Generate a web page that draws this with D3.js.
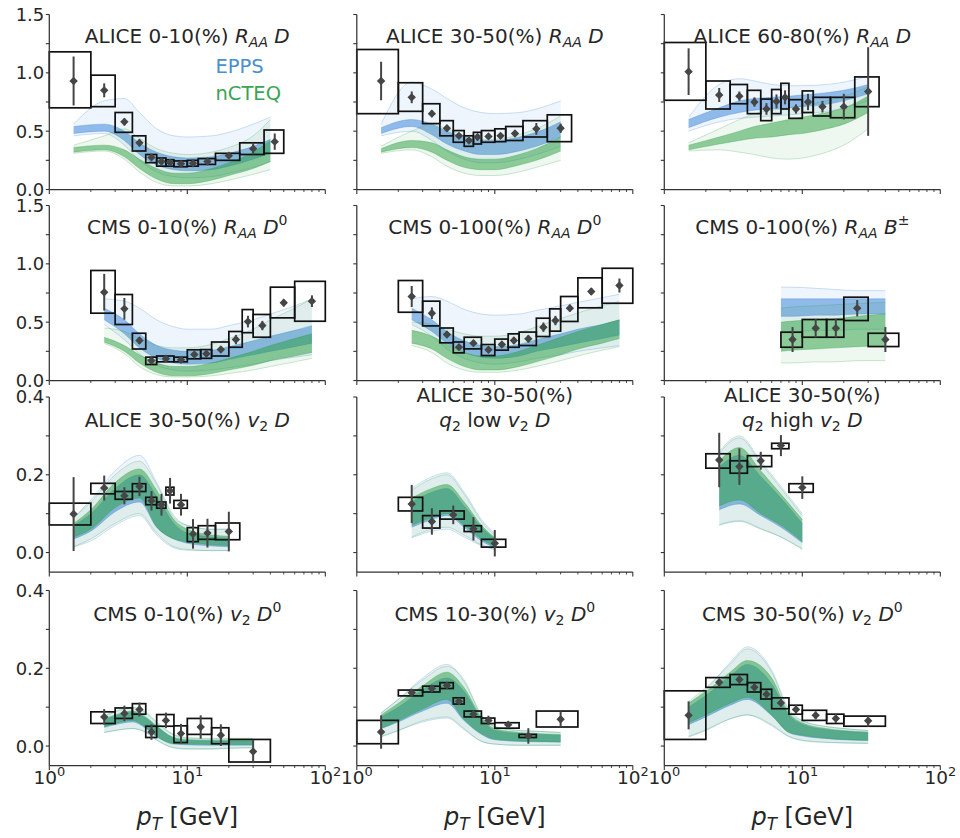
<!DOCTYPE html>
<html><head><meta charset="utf-8">
<script src="https://cdn.jsdelivr.net/npm/d3@7"></script>
<style>body{margin:0;background:#fff} svg text{font-family:"DejaVu Sans",sans-serif}</style>
</head><body><svg id="c" width="960" height="838"></svg>
<script>
// ---------- DATA ----------
// data rows: [pT, binLo, binHi, value, statErr, sysLo, sysHi]
const aliceRaa010 = [
 [1.5,1,2,0.93,0.21,0.70,1.18],[2.5,2,3,0.85,0.06,0.71,0.98],[3.5,3,4,0.58,0.03,0.49,0.66],
 [4.5,4,5,0.40,0.03,0.33,0.46],[5.5,5,6,0.275,0.02,0.23,0.30],[6.5,6,7,0.24,0.02,0.20,0.27],
 [7.5,7,8,0.23,0.02,0.20,0.255],[9,8,10,0.22,0.015,0.195,0.245],[11,10,12,0.225,0.02,0.20,0.25],
 [14,12,16,0.24,0.02,0.215,0.265],[20,16,24,0.29,0.02,0.25,0.31],[30,24,36,0.35,0.05,0.30,0.40],
 [43,36,50,0.41,0.07,0.31,0.51]];
const aliceRaa3050 = [
 [1.5,1,2,0.93,0.165,0.65,1.20],[2.5,2,3,0.79,0.05,0.67,0.915],[3.5,3,4,0.65,0.03,0.565,0.735],
 [4.5,4,5,0.525,0.025,0.46,0.59],[5.5,5,6,0.46,0.02,0.405,0.505],[6.5,6,7,0.42,0.02,0.37,0.46],
 [7.5,7,8,0.45,0.025,0.39,0.49],[9,8,10,0.455,0.02,0.405,0.505],[11,10,12,0.46,0.025,0.41,0.52],
 [14,12,16,0.48,0.025,0.42,0.54],[20,16,24,0.52,0.05,0.45,0.59],[30,24,36,0.525,0.04,0.41,0.64]];
const aliceRaa6080 = [
 [1.5,1,2,1.01,0.20,0.765,1.26],[2.5,2,3,0.81,0.06,0.69,0.93],[3.5,3,4,0.80,0.04,0.735,0.90],
 [4.5,4,5,0.75,0.04,0.65,0.85],[5.5,5,6,0.69,0.05,0.59,0.775],[6.5,6,7,0.755,0.06,0.65,0.857],
 [7.5,7,8,0.79,0.06,0.69,0.91],[9,8,10,0.69,0.04,0.61,0.77],[11,10,12,0.75,0.07,0.66,0.845],
 [14,12,16,0.71,0.05,0.63,0.79],[20,16,24,0.71,0.11,0.615,0.79],[30,24,36,0.84,0.38,0.71,0.965]];
const cmsRaa010 = [
 [2.5,2,3,0.757,0.157,0.577,0.943],[3.5,3,4,0.614,0.093,0.48,0.737],[4.5,4,5,0.343,0.03,0.27,0.405],
 [5.5,5,6,0.171,0.02,0.137,0.20],[7,6,8,0.186,0.02,0.16,0.21],[9,8,10,0.177,0.02,0.16,0.20],
 [11.25,10,12.5,0.223,0.02,0.186,0.263],[13.75,12.5,15,0.229,0.02,0.19,0.265],[17.5,15,20,0.266,0.02,0.21,0.33],
 [22.5,20,25,0.351,0.04,0.285,0.42],[27.5,25,30,0.505,0.05,0.41,0.608],[35,30,40,0.471,0.04,0.371,0.566],
 [50,40,60,0.666,0.03,0.537,0.80],[80,60,100,0.68,0.05,0.508,0.85]];
const cmsRaa0100 = [
 [2.5,2,3,0.72,0.09,0.585,0.857],[3.5,3,4,0.577,0.05,0.468,0.68],[4.5,4,5,0.394,0.03,0.323,0.45],
 [5.5,5,6,0.286,0.025,0.237,0.33],[7,6,8,0.32,0.025,0.271,0.371],[9,8,10,0.263,0.02,0.214,0.308],
 [11.25,10,12.5,0.308,0.02,0.26,0.355],[13.75,12.5,15,0.343,0.03,0.285,0.40],[17.5,15,20,0.357,0.03,0.30,0.415],
 [22.5,20,25,0.457,0.04,0.377,0.534],[27.5,25,30,0.514,0.04,0.423,0.614],[35,30,40,0.62,0.03,0.506,0.72],
 [50,40,60,0.763,0.03,0.623,0.88],[80,60,100,0.814,0.06,0.662,0.962]];
const cmsRaaB = [
 [8.5,7,10,0.351,0.107,0.285,0.414],[12.5,10,15,0.448,0.08,0.371,0.523],[17.5,15,20,0.448,0.08,0.371,0.523],
 [25,20,30,0.62,0.07,0.514,0.714],[40,30,50,0.351,0.107,0.291,0.405]];
const aliceV2 = [
 [1.5,1,2,0.099,0.095,0.071,0.127],[2.5,2,3,0.166,0.032,0.151,0.178],[3.5,3,4,0.146,0.022,0.137,0.157],
 [4.5,4,5,0.17,0.025,0.157,0.177],[5.5,5,6,0.133,0.025,0.123,0.142],[6.5,6,7,0.123,0.028,0.114,0.13],
 [7.5,7,8,0.159,0.033,0.148,0.168],[9,8,10,0.123,0.028,0.114,0.134],[11,10,12,0.048,0.038,0.028,0.064],
 [14,12,16,0.05,0.037,0.034,0.069],[20,16,24,0.054,0.051,0.033,0.076]];
const aliceV2Low = [
 [2.5,2,3,0.125,0.049,0.107,0.142],[3.5,3,4,0.08,0.034,0.063,0.095],[5,4,6,0.097,0.024,0.086,0.107],
 [7,6,8,0.061,0.03,0.054,0.069],[10,8,12,0.024,0.034,0.014,0.034]];
const aliceV2High = [
 [2.5,2,3,0.238,0.07,0.217,0.254],[3.5,3,4,0.221,0.047,0.204,0.236],[5,4,6,0.236,0.023,0.221,0.249],
 [7,6,8,0.275,0.027,0.267,0.281],[10,8,12,0.167,0.029,0.155,0.177]];
const cmsV2010 = [
 [2.5,2,3,0.075,0.02,0.058,0.088],[3.5,3,4,0.084,0.02,0.071,0.098],[4.5,4,5,0.094,0.018,0.082,0.109],
 [5.5,5,6,0.036,0.02,0.022,0.051],[7,6,8,0.066,0.02,0.051,0.081],[9,8,10,0.032,0.025,0.009,0.052],
 [12.5,10,15,0.049,0.03,0.03,0.071],[17.5,15,20,0.028,0.028,0.006,0.047],[30,20,40,-0.014,0.03,-0.041,0.017]];
const cmsV21030 = [
 [1.5,1,2,0.036,0.043,0.006,0.066],[2.5,2,3,0.137,0.01,0.129,0.144],[3.5,3,4,0.148,0.008,0.139,0.154],
 [4.5,4,5,0.156,0.008,0.148,0.163],[5.5,5,6,0.115,0.008,0.108,0.124],[7,6,8,0.082,0.008,0.075,0.09],
 [9,8,10,0.066,0.012,0.058,0.072],[12.5,10,15,0.055,0.008,0.046,0.06],[17.5,15,20,0.026,0.02,0.022,0.03],
 [30,20,40,0.069,0.02,0.049,0.09]];
const cmsV23050 = [
 [1.5,1,2,0.079,0.036,0.017,0.142],[2.5,2,3,0.164,0.01,0.151,0.176],[3.5,3,4,0.171,0.01,0.158,0.184],
 [4.5,4,5,0.151,0.01,0.139,0.163],[5.5,5,6,0.133,0.01,0.121,0.146],[7,6,8,0.111,0.01,0.096,0.124],
 [9,8,10,0.094,0.012,0.082,0.105],[12.5,10,15,0.079,0.01,0.066,0.092],[17.5,15,20,0.071,0.012,0.058,0.082],
 [30,20,40,0.065,0.015,0.051,0.077]];

// model curves: knots pT, then [hi, coreHi, coreLo, lo] for each nPDF set
const ptA = [1.5,2.5,3.5,4.5,6,8,10,15,20,30,40];
const eppsA = [[0.56,0.76,0.78,0.66,0.52,0.46,0.45,0.46,0.49,0.56,0.62],[0.54,0.56,0.50,0.40,0.32,0.28,0.27,0.28,0.31,0.37,0.43],[0.48,0.50,0.42,0.30,0.21,0.17,0.16,0.17,0.20,0.26,0.31],[0.46,0.48,0.38,0.25,0.15,0.11,0.10,0.11,0.14,0.19,0.24]];
const ncteqA = [[0.38,0.46,0.52,0.44,0.35,0.31,0.30,0.32,0.36,0.46,0.60],[0.36,0.38,0.34,0.26,0.18,0.14,0.14,0.18,0.23,0.32,0.42],[0.32,0.34,0.28,0.18,0.09,0.05,0.05,0.08,0.12,0.18,0.24],[0.31,0.33,0.26,0.15,0.06,0.03,0.03,0.05,0.08,0.13,0.17]];
const ptB = [1.5,2.5,3.5,4.5,6,8,10,15,20,30];
const eppsB = [[0.56,0.92,0.86,0.78,0.70,0.66,0.65,0.66,0.69,0.76],[0.53,0.60,0.56,0.50,0.45,0.42,0.42,0.45,0.49,0.58],[0.48,0.54,0.47,0.39,0.33,0.30,0.30,0.33,0.37,0.45],[0.46,0.50,0.42,0.33,0.26,0.23,0.23,0.26,0.30,0.37]];
const ncteqB = [[0.37,0.50,0.56,0.52,0.46,0.43,0.43,0.47,0.52,0.63],[0.35,0.42,0.40,0.34,0.28,0.26,0.26,0.30,0.35,0.45],[0.32,0.36,0.32,0.25,0.19,0.17,0.17,0.21,0.25,0.33],[0.31,0.34,0.28,0.20,0.14,0.12,0.12,0.15,0.19,0.25]];
const ptC = [1.5,2.5,3.5,4.5,6,8,10,15,20,30];
const eppsC = [[0.62,0.90,0.95,0.93,0.90,0.89,0.89,0.90,0.92,0.97],[0.60,0.70,0.76,0.78,0.79,0.80,0.81,0.83,0.85,0.90],[0.53,0.62,0.66,0.68,0.69,0.70,0.71,0.73,0.76,0.82],[0.50,0.58,0.61,0.62,0.63,0.64,0.65,0.67,0.70,0.76]];
const ncteqC = [[0.40,0.52,0.60,0.65,0.68,0.70,0.72,0.76,0.80,0.88],[0.38,0.45,0.50,0.54,0.57,0.60,0.62,0.66,0.70,0.80],[0.34,0.39,0.42,0.44,0.45,0.47,0.48,0.52,0.56,0.66],[0.33,0.34,0.32,0.30,0.27,0.26,0.27,0.32,0.38,0.52]];
const ptD = [2.5,3.5,4.5,6,8,10,15,20,30,40,60,80];
const eppsD = [[0.70,0.68,0.62,0.52,0.46,0.44,0.44,0.47,0.52,0.57,0.64,0.70],[0.62,0.52,0.40,0.30,0.26,0.25,0.26,0.29,0.34,0.38,0.43,0.47],[0.52,0.40,0.28,0.19,0.15,0.14,0.15,0.18,0.22,0.25,0.29,0.32],[0.48,0.35,0.23,0.13,0.09,0.08,0.09,0.11,0.14,0.17,0.20,0.22]];
const ncteqD = [[0.45,0.42,0.36,0.30,0.28,0.28,0.31,0.36,0.44,0.52,0.62,0.70],[0.37,0.30,0.22,0.15,0.12,0.12,0.15,0.19,0.25,0.30,0.36,0.40],[0.33,0.25,0.15,0.07,0.04,0.04,0.06,0.09,0.13,0.17,0.21,0.24],[0.32,0.23,0.12,0.05,0.03,0.03,0.04,0.06,0.09,0.12,0.16,0.19]];
const ptE = [2.5,3.5,4.5,6,8,10,15,20,30,40,60,80];
const eppsE = [[0.70,0.72,0.68,0.61,0.57,0.56,0.57,0.60,0.64,0.67,0.71,0.74],[0.62,0.52,0.42,0.34,0.30,0.29,0.31,0.35,0.40,0.44,0.48,0.52],[0.52,0.42,0.32,0.24,0.20,0.19,0.21,0.25,0.29,0.32,0.36,0.39],[0.48,0.38,0.27,0.19,0.15,0.14,0.16,0.19,0.22,0.25,0.28,0.30]];
const ncteqE = [[0.50,0.48,0.44,0.40,0.38,0.38,0.41,0.46,0.53,0.58,0.64,0.68],[0.43,0.38,0.31,0.24,0.21,0.21,0.25,0.30,0.37,0.42,0.48,0.52],[0.32,0.27,0.19,0.12,0.09,0.09,0.12,0.16,0.22,0.27,0.32,0.36],[0.30,0.24,0.15,0.09,0.07,0.07,0.09,0.12,0.17,0.21,0.26,0.29]];
const ptF = [7,8.5,12.5,17.5,25,40];
const eppsF = [[0.80,0.80,0.79,0.78,0.77,0.77],[0.70,0.70,0.70,0.70,0.70,0.70],[0.55,0.55,0.56,0.56,0.57,0.57],[0.42,0.42,0.43,0.43,0.44,0.44]];
const ncteqF = [[0.62,0.63,0.64,0.65,0.66,0.67],[0.50,0.51,0.52,0.53,0.55,0.57],[0.25,0.26,0.27,0.28,0.29,0.30],[0.15,0.15,0.16,0.16,0.17,0.17]];
const ptG = [1.5,2,3,4.5,6,8,10,15,20];
const eppsG = [[0.09,0.135,0.21,0.25,0.18,0.095,0.07,0.06,0.06],[0.07,0.10,0.165,0.20,0.145,0.075,0.05,0.04,0.037],[0.035,0.055,0.105,0.13,0.065,0.035,0.024,0.017,0.015],[0.015,0.03,0.07,0.095,0.045,0.012,0.006,0.005,0.005]];
const ncteqG = [[0.09,0.13,0.20,0.235,0.175,0.09,0.07,0.06,0.06],[0.075,0.11,0.18,0.215,0.16,0.085,0.06,0.045,0.042],[0.04,0.06,0.115,0.14,0.066,0.035,0.028,0.02,0.018],[0.015,0.035,0.075,0.10,0.05,0.015,0.008,0.005,0.005]];
const ptH = [2.5,3.5,4.5,6,8,10];
const eppsH = [[0.165,0.195,0.205,0.155,0.085,0.048],[0.13,0.155,0.165,0.12,0.065,0.035],[0.065,0.085,0.095,0.065,0.03,0.013],[0.038,0.055,0.06,0.04,0.018,0.007]];
const ncteqH = [[0.16,0.19,0.20,0.15,0.08,0.045],[0.14,0.165,0.175,0.13,0.07,0.038],[0.07,0.09,0.10,0.07,0.035,0.015],[0.04,0.06,0.065,0.045,0.02,0.008]];
const ptI = [2.5,3.5,5,7,10];
const eppsI = [[0.255,0.295,0.23,0.165,0.095],[0.22,0.25,0.195,0.14,0.075],[0.11,0.125,0.095,0.065,0.025],[0.072,0.082,0.062,0.04,0.01]];
const ncteqI = [[0.26,0.30,0.235,0.17,0.10],[0.235,0.27,0.21,0.15,0.085],[0.12,0.135,0.10,0.07,0.028],[0.07,0.08,0.06,0.04,0.008]];
const ptJ = [2.5,3,4,5,6,8,10,15,20,30];
const eppsJ = [[0.075,0.088,0.098,0.085,0.06,0.028,0.02,0.018,0.018,0.018],[0.068,0.077,0.087,0.072,0.05,0.02,0.014,0.013,0.013,0.013],[0.048,0.055,0.062,0.046,0.024,0.006,0.003,0.002,0.002,0.002],[0.035,0.04,0.045,0.035,0.015,-0.004,-0.007,-0.007,-0.005,-0.004]];
const ncteqJ = [[0.077,0.09,0.10,0.088,0.062,0.03,0.022,0.02,0.02,0.02],[0.07,0.08,0.09,0.075,0.052,0.022,0.017,0.015,0.015,0.015],[0.05,0.058,0.066,0.048,0.025,0.005,0.005,0.004,0.004,0.004],[0.035,0.04,0.045,0.036,0.016,-0.005,-0.008,-0.008,-0.006,-0.005]];
const ptK = [1.5,2,3,4.5,6,8,10,15,20,30];
const eppsK = [[0.085,0.12,0.175,0.21,0.165,0.08,0.05,0.04,0.038,0.035],[0.075,0.10,0.145,0.175,0.14,0.07,0.04,0.032,0.03,0.028],[0.045,0.062,0.09,0.11,0.065,0.03,0.016,0.012,0.011,0.01],[0.025,0.04,0.062,0.072,0.042,0.012,0.005,0.002,0.002,0.002]];
const ncteqK = [[0.085,0.12,0.17,0.205,0.17,0.08,0.05,0.04,0.038,0.035],[0.08,0.11,0.155,0.19,0.15,0.075,0.045,0.035,0.032,0.03],[0.045,0.065,0.095,0.12,0.068,0.032,0.018,0.013,0.012,0.011],[0.023,0.04,0.065,0.075,0.045,0.012,0.005,0.002,0.002,0.002]];
const ptL = [1.5,2,3,4,6,8,10,15,20,30];
const eppsL = [[0.11,0.145,0.215,0.255,0.195,0.095,0.066,0.05,0.045,0.04],[0.10,0.13,0.18,0.21,0.16,0.08,0.056,0.042,0.038,0.034],[0.055,0.075,0.105,0.12,0.078,0.035,0.026,0.019,0.016,0.014],[0.025,0.042,0.07,0.08,0.052,0.024,0.014,0.009,0.008,0.007]];
const ncteqL = [[0.115,0.15,0.21,0.25,0.19,0.09,0.065,0.05,0.045,0.04],[0.11,0.14,0.19,0.22,0.175,0.085,0.06,0.045,0.04,0.036],[0.06,0.08,0.11,0.125,0.08,0.035,0.028,0.02,0.017,0.015],[0.023,0.04,0.07,0.08,0.055,0.025,0.015,0.01,0.008,0.007]];

// axis ticks
const xDomain = [1,100];
const xMajor = [1,10,100];
const xMinor = [2,3,4,5,6,7,8,9,20,30,40,50,60,70,80,90];
const xTickLabels = ["0","1","2"];
const raaDomain = [0,1.5], raaTicks = [0,0.25,0.5,0.75,1,1.25,1.5], raaLabels = [0,0.5,1,1.5];
const v2Domain = [-0.05,0.4], v2Ticks = [0,0.1,0.2,0.3,0.4], v2Labels = [0,0.2,0.4];

// titles
const T = (t,o)=>Object.assign({t},o||{});
const panels = [
 {row:0,col:0,kind:'raa',data:aliceRaa010,pt:ptA,epps:eppsA,ncteq:ncteqA,title:[[T("ALICE 0-10(%) "),T("R",{i:1}),T("AA",{i:1,sub:1}),T(" "),T("D",{i:1})]],legend:true},
 {row:0,col:1,kind:'raa',data:aliceRaa3050,pt:ptB,epps:eppsB,ncteq:ncteqB,title:[[T("ALICE 30-50(%) "),T("R",{i:1}),T("AA",{i:1,sub:1}),T(" "),T("D",{i:1})]]},
 {row:0,col:2,kind:'raa',data:aliceRaa6080,pt:ptC,epps:eppsC,ncteq:ncteqC,title:[[T("ALICE 60-80(%) "),T("R",{i:1}),T("AA",{i:1,sub:1}),T(" "),T("D",{i:1})]]},
 {row:1,col:0,kind:'raa',data:cmsRaa010,pt:ptD,epps:eppsD,ncteq:ncteqD,title:[[T("CMS 0-10(%) "),T("R",{i:1}),T("AA",{i:1,sub:1}),T(" "),T("D",{i:1}),T("0",{sup:1})]]},
 {row:1,col:1,kind:'raa',data:cmsRaa0100,pt:ptE,epps:eppsE,ncteq:ncteqE,title:[[T("CMS 0-100(%) "),T("R",{i:1}),T("AA",{i:1,sub:1}),T(" "),T("D",{i:1}),T("0",{sup:1})]]},
 {row:1,col:2,kind:'raa',data:cmsRaaB,pt:ptF,epps:eppsF,ncteq:ncteqF,title:[[T("CMS 0-100(%) "),T("R",{i:1}),T("AA",{i:1,sub:1}),T(" "),T("B",{i:1}),T("±",{sup:1})]]},
 {row:2,col:0,kind:'v2',data:aliceV2,pt:ptG,epps:eppsG,ncteq:ncteqG,title:[[T("ALICE 30-50(%) "),T("v",{i:1}),T("2",{sub:1}),T(" "),T("D",{i:1})]]},
 {row:2,col:1,kind:'v2',data:aliceV2Low,pt:ptH,epps:eppsH,ncteq:ncteqH,title:[[T("ALICE 30-50(%)")],[T("q",{i:1}),T("2",{sub:1}),T(" low "),T("v",{i:1}),T("2",{sub:1}),T(" "),T("D",{i:1})]]},
 {row:2,col:2,kind:'v2',data:aliceV2High,pt:ptI,epps:eppsI,ncteq:ncteqI,title:[[T("ALICE 30-50(%)")],[T("q",{i:1}),T("2",{sub:1}),T(" high "),T("v",{i:1}),T("2",{sub:1}),T(" "),T("D",{i:1})]]},
 {row:3,col:0,kind:'v2',data:cmsV2010,pt:ptJ,epps:eppsJ,ncteq:ncteqJ,title:[[T("CMS 0-10(%) "),T("v",{i:1}),T("2",{sub:1}),T(" "),T("D",{i:1}),T("0",{sup:1})]]},
 {row:3,col:1,kind:'v2',data:cmsV21030,pt:ptK,epps:eppsK,ncteq:ncteqK,title:[[T("CMS 10-30(%) "),T("v",{i:1}),T("2",{sub:1}),T(" "),T("D",{i:1}),T("0",{sup:1})]]},
 {row:3,col:2,kind:'v2',data:cmsV23050,pt:ptL,epps:eppsL,ncteq:ncteqL,title:[[T("CMS 30-50(%) "),T("v",{i:1}),T("2",{sub:1}),T(" "),T("D",{i:1}),T("0",{sup:1})]]}
];

// ---------- LAYOUT / STYLE ----------
const COLX=[49.3,356.8,664.3], W=276, ROWY=[14.5,205.5,397,590.5], H=175;
const TXT='#262626', AX='#333', MK='#454545';
const C_EPPS='#2f7fd6', C_NC='#2a9d3f';
const svg=d3.select('#c');

function rich(g,x,y,segs,size,anchor,fill){
  const t=g.append('text').attr('x',x).attr('y',y).attr('font-size',size)
    .attr('text-anchor',anchor||'middle').attr('fill',fill||TXT);
  let shift=0;
  segs.forEach(s=>{
    const ts=t.append('tspan').text(s.t);
    if(s.i) ts.attr('font-style','italic');
    const target=s.sub?size*0.2:(s.sup?-size*0.42:0);
    if(target!==shift){ts.attr('dy',target-shift);shift=target;}
    if(s.sub||s.sup) ts.attr('font-size',size*0.7);
  });
  return t;
}

panels.forEach(p=>{
  const x0=COLX[p.col], y0=ROWY[p.row];
  const xs=d3.scaleLog().domain(xDomain).range([x0,x0+W]);
  const isR=p.kind==='raa';
  const ys=d3.scaleLinear().domain(isR?raaDomain:v2Domain).range([y0+H,y0]);
  const g=svg.append('g');

  // model bands
  [[p.epps,C_EPPS],[p.ncteq,C_NC]].forEach(([set,c])=>{
    const [hi,cHi,cLo,lo]=set, pts=p.pt;
    const area=(a,b)=>d3.area().x((d,i)=>xs(pts[i])).y0((d,i)=>ys(a[i])).y1((d,i)=>ys(b[i])).curve(d3.curveMonotoneX)(pts);
    const line=arr=>d3.line().x((d,i)=>xs(pts[i])).y(d=>ys(d)).curve(d3.curveMonotoneX)(arr);
    g.append('path').attr('d',area(lo,hi)).attr('fill',c).attr('fill-opacity',0.08);
    g.append('path').attr('d',area(cLo,cHi)).attr('fill',c).attr('fill-opacity',0.5);
    [hi,lo].forEach(a=>g.append('path').attr('d',line(a)).attr('fill','none').attr('stroke',c).attr('stroke-opacity',0.3).attr('stroke-width',0.8));
    [cHi,cLo].forEach(a=>g.append('path').attr('d',line(a)).attr('fill','none').attr('stroke',c).attr('stroke-opacity',0.4).attr('stroke-width',0.8));
  });

  // systematic boxes
  g.selectAll('rect.sys').data(p.data).enter().append('rect')
    .attr('x',d=>xs(d[1])).attr('width',d=>xs(d[2])-xs(d[1]))
    .attr('y',d=>ys(d[6])).attr('height',d=>ys(d[5])-ys(d[6]))
    .attr('fill','none').attr('stroke','#111').attr('stroke-width',1.7);
  // stat error bars
  g.selectAll('line.err').data(p.data).enter().append('line')
    .attr('x1',d=>xs(d[0])).attr('x2',d=>xs(d[0]))
    .attr('y1',d=>ys(d[3]-d[4])).attr('y2',d=>ys(d[3]+d[4]))
    .attr('stroke',MK).attr('stroke-width',2);
  // markers
  const s=4.2;
  g.selectAll('path.mk').data(p.data).enter().append('path')
    .attr('d',d=>{const cx=xs(d[0]),cy=ys(d[3]);return `M${cx},${cy-s}L${cx+s},${cy}L${cx},${cy+s}L${cx-s},${cy}Z`;})
    .attr('fill',MK);

  // spines
  g.append('line').attr('x1',x0).attr('x2',x0).attr('y1',y0).attr('y2',y0+H).attr('stroke',AX).attr('stroke-width',1.25);
  g.append('line').attr('x1',x0).attr('x2',x0+W).attr('y1',y0+H).attr('y2',y0+H).attr('stroke',AX).attr('stroke-width',1.25);
  // y ticks
  (isR?raaTicks:v2Ticks).forEach(v=>{
    g.append('line').attr('x1',x0-3.5).attr('x2',x0).attr('y1',ys(v)).attr('y2',ys(v)).attr('stroke',AX).attr('stroke-width',1.1);
  });
  if(p.col===0){
    (isR?raaLabels:v2Labels).forEach(v=>{
      g.append('text').attr('x',x0-5).attr('y',ys(v)).attr('dy','0.36em').attr('text-anchor','end')
        .attr('font-size',18).attr('fill',TXT).text(d3.format('.1f')(v));
    });
  }
  // x ticks
  xMajor.forEach(v=>g.append('line').attr('x1',xs(v)).attr('x2',xs(v)).attr('y1',y0+H).attr('y2',y0+H+4.5).attr('stroke',AX).attr('stroke-width',1.1));
  xMinor.forEach(v=>g.append('line').attr('x1',xs(v)).attr('x2',xs(v)).attr('y1',y0+H).attr('y2',y0+H+2.5).attr('stroke',AX).attr('stroke-width',0.9));
  if(p.row===3){
    xMajor.forEach((v,i)=>rich(g,xs(v),y0+H+18,[T("10"),T(xTickLabels[i],{sup:1})],18.5,'middle'));
    rich(g,x0+W/2,825,[T("p",{i:1}),T("T",{i:1,sub:1}),T(" [GeV]")],24,'middle');
  }

  // title
  const cx=x0+W/2;
  if(p.title.length===1){
    rich(g,cx,ys(isR?1.26:0.322),p.title[0],20,'middle');
  } else {
    rich(g,cx,ys(0.387),p.title[0],20,'middle');
    rich(g,cx,ys(0.324),p.title[1],20,'middle');
  }
  if(p.legend){
    rich(g,xs(16),ys(1.0),[T("EPPS")],19.5,'start','#4a90cc');
    rich(g,xs(16),ys(0.767),[T("nCTEQ")],19.5,'start','#3aa455');
  }
});
</script></body></html>
